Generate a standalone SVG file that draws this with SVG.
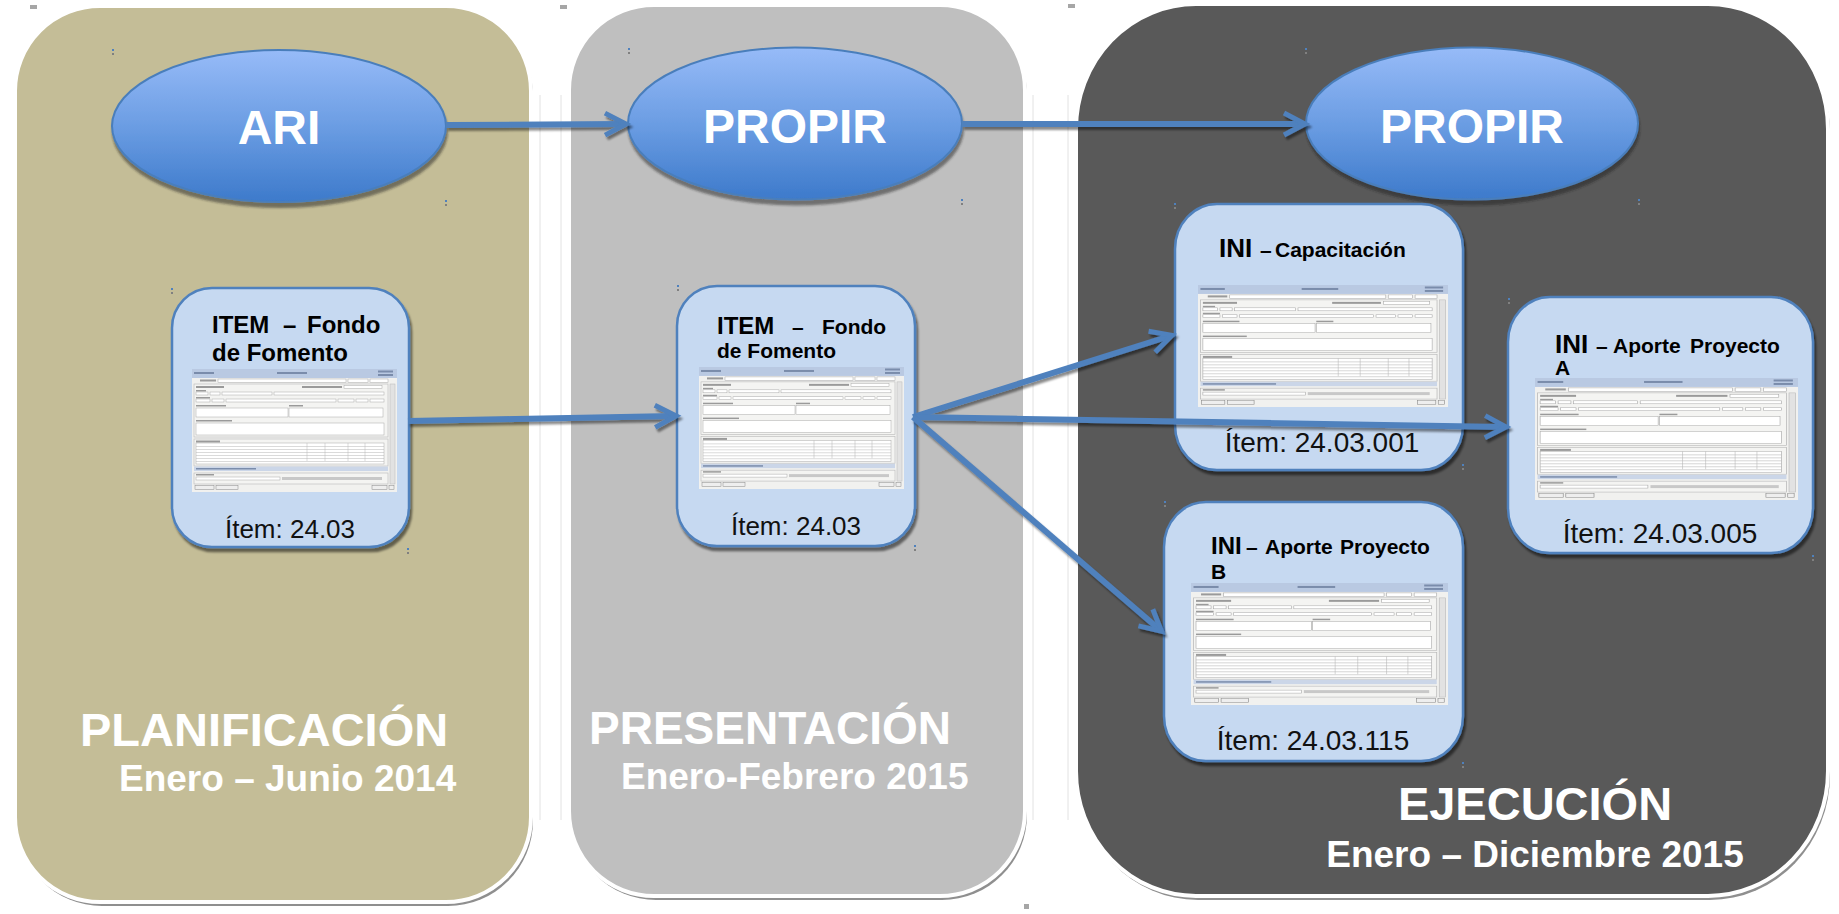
<svg xmlns="http://www.w3.org/2000/svg" xmlns:xlink="http://www.w3.org/1999/xlink" width="1839" height="914" viewBox="0 0 1839 914">
<style>
.ptitle{font-family:"Liberation Sans",Arial,sans-serif;font-weight:bold;fill:#FFFFFF;}
.etxt{font-family:"Liberation Sans",Arial,sans-serif;font-weight:bold;font-size:48px;fill:#FFFFFF;text-anchor:middle;}
.ntitle{font-family:"Liberation Sans",Arial,sans-serif;font-weight:bold;fill:#000000;}
.item{font-family:"Liberation Sans",Arial,sans-serif;fill:#111111;text-anchor:middle;}
.node{fill:#C6D9F1;stroke:#4F81BD;stroke-width:2.5;}
.ell{fill:url(#eg);stroke:#4A7EBB;stroke-width:2;}
.conn{fill:none;stroke:#4F81BD;stroke-width:6;}
.pshadow{fill:#8F8F8F;}
.fld{fill:#FFFFFF;stroke:#A8A8A8;stroke-width:0.5;}
.sec{fill:#F4F4F2;stroke:#B8B8B8;stroke-width:0.6;}
.tl{stroke:#B4B4B4;stroke-width:0.5;}
.hb{fill:#7A8CAB;}
.gl{fill:#9A9A9A;}
.hd1{fill:#4F81BD;}
.hd2{fill:#808080;}
</style>
<defs>
<linearGradient id="eg" x1="0" y1="0" x2="0" y2="1">
<stop offset="0" stop-color="#97BBF8"/>
<stop offset="0.5" stop-color="#6B9DE3"/>
<stop offset="1" stop-color="#3D7ACB"/>
</linearGradient>
<filter id="nsh" x="-10%" y="-10%" width="125%" height="125%">
<feDropShadow dx="2" dy="4" stdDeviation="1.2" flood-color="#000" flood-opacity="0.5"/>
</filter>
<filter id="esh" x="-10%" y="-10%" width="125%" height="130%">
<feDropShadow dx="1" dy="5" stdDeviation="1" flood-color="#222" flood-opacity="0.5"/>
</filter>
<filter id="csh" x="-5%" y="-20%" width="110%" height="140%">
<feDropShadow dx="2" dy="3" stdDeviation="1" flood-color="#000" flood-opacity="0.45"/>
</filter>
<marker id="chev" markerUnits="userSpaceOnUse" markerWidth="40" markerHeight="40" viewBox="-30 -20 40 40" refX="0" refY="0" orient="auto" overflow="visible">
<path d="M-19,-11 L2,0 L-19,11" fill="none" stroke="#4F81BD" stroke-width="5"/>
</marker>
<symbol id="form" viewBox="0 0 205 123" preserveAspectRatio="none">
<rect width="205" height="123" fill="#F1F1EF"/>
<rect width="205" height="9" fill="#B9C9E2"/>
<rect x="2" y="3" width="20" height="2" class="hb"/>
<rect x="85" y="3" width="30" height="2" class="hb"/>
<rect x="186" y="1.5" width="15" height="2" class="hb"/>
<rect x="186" y="5" width="15" height="2" class="hb"/>
<rect x="8" y="10.5" width="16" height="2" class="gl"/>
<rect x="26" y="10" width="128" height="3.5" class="fld"/>
<rect x="156" y="10" width="20" height="3.5" class="fld"/>
<rect x="178" y="10" width="18" height="3.5" class="fld"/>
<rect x="2" y="15" width="194" height="53" class="sec"/>
<rect x="4" y="17" width="28" height="2" class="gl"/>
<rect x="110" y="17" width="40" height="2" class="gl"/>
<rect x="152" y="16.5" width="38" height="3" class="fld"/>
<rect x="4" y="21" width="10" height="1.5" class="gl"/>
<rect x="4" y="23" width="12" height="3" class="fld"/>
<rect x="18" y="23" width="10" height="3" class="fld"/>
<rect x="30" y="23" width="50" height="3" class="fld"/>
<rect x="82" y="23" width="110" height="3" class="fld"/>
<rect x="4" y="28" width="14" height="1.5" class="gl"/>
<rect x="4" y="30" width="14" height="3" class="fld"/>
<rect x="20" y="30" width="12" height="3" class="fld"/>
<rect x="34" y="30" width="110" height="3" class="fld"/>
<rect x="146" y="30" width="16" height="3" class="fld"/>
<rect x="164" y="30" width="12" height="3" class="fld"/>
<rect x="178" y="30" width="14" height="3" class="fld"/>
<rect x="4" y="36" width="30" height="1.5" class="gl"/>
<rect x="97" y="36" width="14" height="1.5" class="gl"/>
<rect x="4" y="39" width="92" height="9" class="fld"/>
<rect x="97" y="39" width="94" height="9" class="fld"/>
<rect x="4" y="51" width="36" height="1.5" class="gl"/>
<rect x="4" y="54" width="188" height="12" class="fld"/>
<rect x="198" y="15" width="5" height="100" fill="#E2E2E2" stroke="#B8B8B8" stroke-width="0.5"/>
<rect x="2" y="70" width="194" height="27" class="sec"/>
<rect x="4" y="71.5" width="24" height="2" class="gl"/>
<rect x="4" y="74" width="188" height="21" class="fld"/>
<line x1="115" y1="74" x2="115" y2="92" class="tl"/>
<line x1="133" y1="74" x2="133" y2="92" class="tl"/>
<line x1="156" y1="74" x2="156" y2="92" class="tl"/>
<line x1="173" y1="74" x2="173" y2="92" class="tl"/>
<line x1="4" y1="77.5" x2="192" y2="77.5" class="tl"/>
<line x1="4" y1="80.5" x2="192" y2="80.5" class="tl"/>
<line x1="4" y1="83.5" x2="192" y2="83.5" class="tl"/>
<line x1="4" y1="86.5" x2="192" y2="86.5" class="tl"/>
<line x1="4" y1="89.5" x2="192" y2="89.5" class="tl"/>
<line x1="4" y1="92.5" x2="192" y2="92.5" class="tl"/>
<rect x="2" y="97.5" width="194" height="4.5" fill="#CBD6E8"/>
<rect x="4" y="99" width="60" height="1.5" class="hb"/>
<rect x="2" y="104" width="194" height="11" class="sec"/>
<rect x="4" y="105" width="18" height="1.5" class="gl"/>
<rect x="4" y="108" width="84" height="3" class="fld"/>
<rect x="90" y="108" width="100" height="3" fill="#C8C8C8"/>
<rect x="3" y="116.5" width="19" height="4" fill="#EEEEEE" stroke="#888" stroke-width="0.5"/>
<rect x="24" y="116.5" width="22" height="4" fill="#EEEEEE" stroke="#888" stroke-width="0.5"/>
<rect x="180" y="116.5" width="15" height="4" fill="#EEEEEE" stroke="#888" stroke-width="0.5"/>
<rect x="197" y="116.5" width="5" height="4" fill="#EEEEEE" stroke="#888" stroke-width="0.5"/>
</symbol>
</defs>
<rect width="1839" height="914" fill="#FFFFFF"/>

<g id="panels">
<g id="panel-planificacion">
<rect x="17" y="10" width="516" height="896" rx="85" ry="85" class="pshadow"/>
<rect x="15" y="6" width="516" height="896" rx="85" ry="85" fill="#C4BD97" stroke="#FFFFFF" stroke-width="4"/>
<text x="80" y="746" class="ptitle" font-size="47">PLANIFICACIÓN</text>
<text x="119" y="791" class="ptitle" font-size="37">Enero – Junio 2014</text>
</g>
<g id="panel-presentacion">
<rect x="571" y="9" width="456" height="891" rx="85" ry="85" class="pshadow"/>
<rect x="569" y="5" width="456" height="891" rx="85" ry="85" fill="#BFBFBF" stroke="#FFFFFF" stroke-width="4"/>
<text x="589" y="744" class="ptitle" font-size="46">PRESENTACIÓN</text>
<text x="621" y="789" class="ptitle" font-size="37">Enero-Febrero 2015</text>
</g>
<g id="panel-ejecucion">
<rect x="1078" y="8" width="752" height="892" rx="120" ry="125" class="pshadow"/>
<rect x="1076" y="4" width="752" height="892" rx="120" ry="125" fill="#595959" stroke="#FFFFFF" stroke-width="4"/>
<text x="1535" y="820" class="ptitle" font-size="47" text-anchor="middle">EJECUCIÓN</text>
<text x="1535" y="867" class="ptitle" font-size="37" text-anchor="middle">Enero – Diciembre 2015</text>
</g>
<g id="panel-edges" stroke="#E2E2E2" stroke-width="1">
<line x1="540" y1="95" x2="540" y2="820"/>
<line x1="561" y1="95" x2="561" y2="820"/>
<line x1="1033" y1="95" x2="1033" y2="820"/>
<line x1="1068" y1="95" x2="1068" y2="820"/>
</g>
<g id="corner-marks" fill="#A6A6A6">
<rect x="30" y="5" width="7" height="4"/>
<rect x="560" y="5" width="7" height="4"/>
<rect x="1068" y="4" width="7" height="4"/>
<rect x="1024" y="904" width="5" height="5"/>
</g>
</g>

<g id="node-ari">
<ellipse cx="279" cy="126" rx="167" ry="76" class="ell" filter="url(#esh)"/>
<text x="279" y="144" class="etxt">ARI</text>
</g>
<g id="node-propir-1">
<ellipse cx="795" cy="123.5" rx="167" ry="76" class="ell" filter="url(#esh)"/>
<text x="795" y="143" class="etxt">PROPIR</text>
</g>
<g id="node-propir-2">
<ellipse cx="1472" cy="123.5" rx="166" ry="76" class="ell" filter="url(#esh)"/>
<text x="1472" y="143" class="etxt">PROPIR</text>
</g>

<g id="node-item-planificacion">
<rect x="172" y="288" width="237" height="259" rx="40" ry="40" class="node" filter="url(#nsh)"/>
<text x="212" y="333" class="ntitle" font-size="24">ITEM</text>
<text x="283" y="333" class="ntitle" font-size="24">–</text>
<text x="307" y="333" class="ntitle" font-size="24">Fondo</text>
<text x="212" y="361" class="ntitle" font-size="24">de Fomento</text>
<use xlink:href="#form" x="192" y="369" width="205" height="123"/>
<text x="290" y="538" class="item" font-size="26">Ítem: 24.03</text>
</g>

<g id="node-item-presentacion">
<rect x="677" y="286" width="238" height="260" rx="40" ry="40" class="node" filter="url(#nsh)"/>
<text x="717" y="334" class="ntitle" font-size="24">ITEM</text>
<text x="792" y="334" class="ntitle" font-size="21">–</text>
<text x="822" y="334" class="ntitle" font-size="21">Fondo</text>
<text x="717" y="358" class="ntitle" font-size="21">de Fomento</text>
<use xlink:href="#form" x="699" y="367" width="205" height="122"/>
<text x="796" y="535" class="item" font-size="26">Ítem: 24.03</text>
</g>

<g id="node-ini-capacitacion">
<rect x="1175" y="204" width="288" height="266" rx="42" ry="45" class="node" filter="url(#nsh)"/>
<text x="1219" y="257" class="ntitle" font-size="26">INI</text>
<text x="1260" y="257" class="ntitle" font-size="21">–</text>
<text x="1275" y="257" class="ntitle" font-size="21">Capacitación</text>
<use xlink:href="#form" x="1198" y="285" width="250" height="122"/>
<text x="1322" y="452" class="item" font-size="28">Ítem: 24.03.001</text>
</g>

<g id="node-ini-aporte-a">
<rect x="1508" y="297" width="305" height="256" rx="42" ry="45" class="node" filter="url(#nsh)"/>
<text x="1555" y="353" class="ntitle" font-size="26">INI</text>
<text x="1596" y="353" class="ntitle" font-size="21">–</text>
<text x="1613" y="353" class="ntitle" font-size="21">Aporte</text>
<text x="1690" y="353" class="ntitle" font-size="21">Proyecto</text>
<text x="1555" y="375" class="ntitle" font-size="21">A</text>
<use xlink:href="#form" x="1535" y="378" width="263" height="122"/>
<text x="1660" y="543" class="item" font-size="28">Ítem: 24.03.005</text>
</g>

<g id="node-ini-aporte-b">
<rect x="1164" y="502" width="299" height="259" rx="42" ry="45" class="node" filter="url(#nsh)"/>
<text x="1211" y="554" class="ntitle" font-size="24">INI</text>
<text x="1246" y="554" class="ntitle" font-size="21">–</text>
<text x="1265" y="554" class="ntitle" font-size="21">Aporte</text>
<text x="1340" y="554" class="ntitle" font-size="21">Proyecto</text>
<text x="1211" y="579" class="ntitle" font-size="21">B</text>
<use xlink:href="#form" x="1191" y="583" width="257" height="122"/>
<text x="1313" y="750" class="item" font-size="28">Ítem: 24.03.115</text>
</g>

<g id="connectors" filter="url(#csh)">
<line x1="446" y1="125" x2="624" y2="124" class="conn" marker-end="url(#chev)"/>
<line x1="962" y1="124" x2="1303" y2="124" class="conn" marker-end="url(#chev)"/>
<line x1="408" y1="421" x2="674" y2="416" class="conn" marker-end="url(#chev)"/>
<line x1="913" y1="417" x2="1170" y2="336" class="conn" marker-end="url(#chev)"/>
<line x1="913" y1="417" x2="1504" y2="427" class="conn" marker-end="url(#chev)"/>
<line x1="913" y1="417" x2="1160" y2="630" class="conn" marker-end="url(#chev)"/>
</g>

<g id="handles">
<rect x="112" y="49" width="2" height="2" class="hd1"/><rect x="112" y="53" width="2" height="2" class="hd2"/>
<rect x="445" y="200" width="2" height="2" class="hd1"/><rect x="445" y="204" width="2" height="2" class="hd2"/>
<rect x="171" y="288" width="2" height="2" class="hd1"/><rect x="171" y="292" width="2" height="2" class="hd2"/>
<rect x="407" y="548" width="2" height="2" class="hd1"/><rect x="407" y="552" width="2" height="2" class="hd2"/>
<rect x="628" y="48" width="2" height="2" class="hd1"/><rect x="628" y="52" width="2" height="2" class="hd2"/>
<rect x="961" y="199" width="2" height="2" class="hd1"/><rect x="961" y="203" width="2" height="2" class="hd2"/>
<rect x="677" y="285" width="2" height="2" class="hd1"/><rect x="677" y="289" width="2" height="2" class="hd2"/>
<rect x="914" y="545" width="2" height="2" class="hd1"/><rect x="914" y="549" width="2" height="2" class="hd2"/>
<rect x="1305" y="48" width="2" height="2" class="hd1"/><rect x="1305" y="52" width="2" height="2" class="hd2"/>
<rect x="1638" y="199" width="2" height="2" class="hd1"/><rect x="1638" y="203" width="2" height="2" class="hd2"/>
<rect x="1174" y="203" width="2" height="2" class="hd1"/><rect x="1174" y="207" width="2" height="2" class="hd2"/>
<rect x="1462" y="464" width="2" height="2" class="hd1"/><rect x="1462" y="468" width="2" height="2" class="hd2"/>
<rect x="1508" y="298" width="2" height="2" class="hd1"/><rect x="1508" y="302" width="2" height="2" class="hd2"/>
<rect x="1812" y="555" width="2" height="2" class="hd1"/><rect x="1812" y="559" width="2" height="2" class="hd2"/>
<rect x="1164" y="501" width="2" height="2" class="hd1"/><rect x="1164" y="505" width="2" height="2" class="hd2"/>
<rect x="1462" y="762" width="2" height="2" class="hd1"/><rect x="1462" y="766" width="2" height="2" class="hd2"/>
</g>
</svg>
